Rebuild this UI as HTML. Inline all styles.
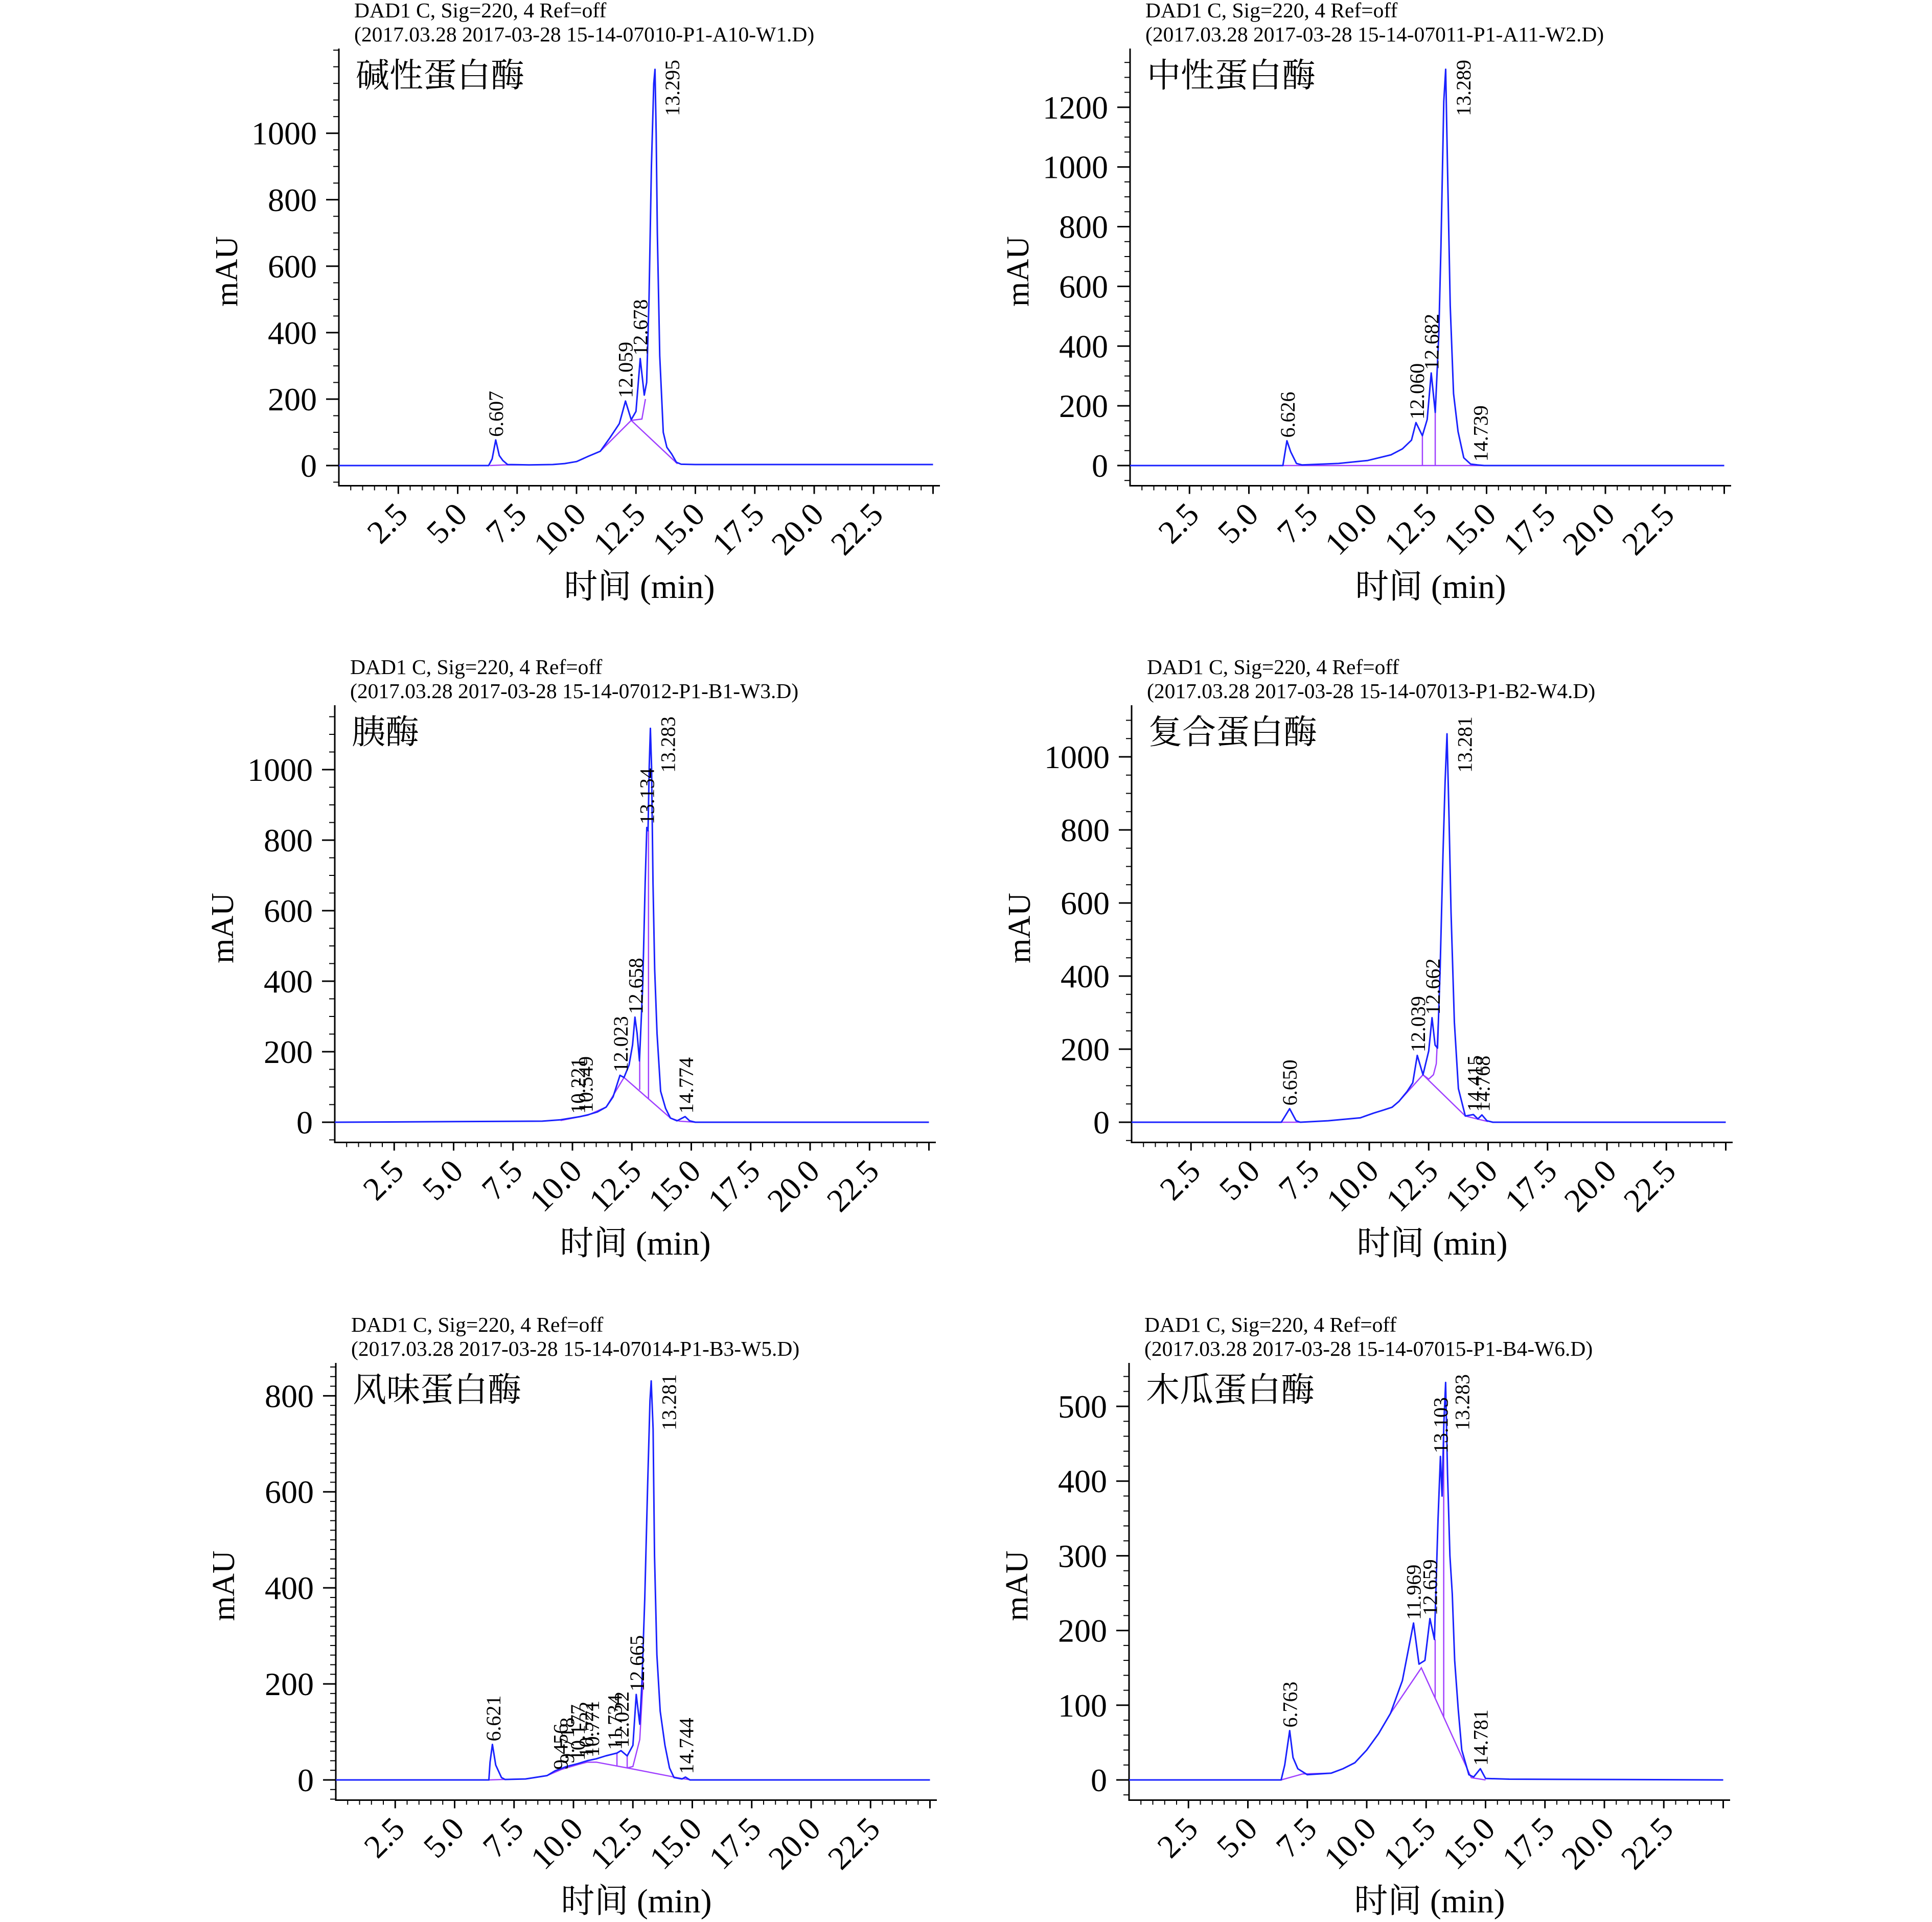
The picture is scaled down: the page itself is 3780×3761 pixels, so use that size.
<!DOCTYPE html>
<html><head><meta charset="utf-8"><title>Chromatograms</title>
<style>
html,body{margin:0;padding:0;background:#fff;}
svg{display:block;}
text{font-family:"Liberation Serif","Noto Serif CJK SC",serif;fill:#000;}
</style></head>
<body>
<svg id="chart" width="3780" height="3761" viewBox="0 0 3780 3761" xmlns="http://www.w3.org/2000/svg"></svg>
<script>
// ---------- data (minutes / mAU) ----------
const P1_times=[0,6.3,6.45,6.6,6.75,6.9,7.1,8,9,9.5,10,10.5,11,11.4,11.8,12.06,12.3,12.5,12.68,12.85,12.95,13.05,13.15,13.25,13.3,13.35,13.4,13.5,13.65,13.8,14.0,14.2,14.4,15,25];
const P1_values=[0,0,20,77,30,15,3,2,3,6,12,28,43,83,126,194,138,163,322,212,250,500,900,1150,1192,1000,700,330,100,55,35,10,4,3,3];
const P1_baseTimes=[[6.35,7.0,8.0],[11.0,12.3,14.25],[12.3,12.75,12.9]];
const P1_baseValues=[[0,2,2],[43,136,5],[136,140,200]];
const P1_dropTimes=[];const P1_dropTop=[];const P1_dropBottom=[];
const P1_peakRT=[6.607,12.059,12.678,13.295];
const P1_peakH=[77,194,322,1192];

const P2_times=[0,6.43,6.6,6.76,7.0,7.24,8.77,10.0,10.98,11.46,11.84,12.03,12.3,12.5,12.67,12.84,12.99,13.08,13.2,13.28,13.35,13.47,13.61,13.8,14.04,14.33,14.62,14.9,25];
const P2_values=[0,0,83,46,7,2,7,17,36,56,85,144,100,154,310,178,437,730,1220,1327,1024,535,241,114,26,5,2,0,0];
const P2_baseTimes=[[6.4,14.9]];
const P2_baseValues=[[0,0]];
const P2_dropTimes=[12.3,12.84];const P2_dropTop=[100,178];const P2_dropBottom=[0,0];
const P2_peakRT=[6.626,12.060,12.682,13.289,14.739];
const P2_peakH=[83,144,310,1327,3];

const P3_times=[0,8.73,9.5,10.32,10.65,11.04,11.42,11.71,12.0,12.17,12.38,12.53,12.63,12.72,12.82,12.96,13.06,13.13,13.18,13.23,13.28,13.33,13.39,13.46,13.56,13.71,13.92,14.12,14.4,14.74,14.93,15.17,25];
const P3_values=[0,3,7,16,21,29,43,72,133,127,162,219,298,252,174,392,680,836,827,1008,1117,1008,680,433,252,88,39,12,4,16,4,0,0];
const P3_baseTimes=[[9.5,10.65,11.42,12.17,14.12,14.5,15.17]];
const P3_baseValues=[[5,20,43,127,12,3,0]];
const P3_dropTimes=[12.83,13.2];const P3_dropTop=[174,827];const P3_dropBottom=[92,67];
const P3_peakRT=[10.221,10.549,12.023,12.658,13.134,13.283,14.774];
const P3_peakH=[15,19,133,298,836,1117,16];

const P4_times=[0,6.3,6.65,6.92,7.1,8.27,9.62,10.19,10.58,10.96,11.25,11.59,11.83,12.02,12.26,12.5,12.64,12.77,12.87,12.98,13.1,13.19,13.27,13.35,13.44,13.58,13.75,14.04,14.38,14.57,14.74,14.95,15.2,25];
const P4_values=[0,0,37,4,0,4,12,25,33,41,57,84,108,183,130,195,286,211,203,416,732,929,1063,850,574,274,92,17,21,9,20,4,0,0];
const P4_baseTimes=[[6.3,7.1],[11.25,12.26,14.04,14.6,15.0],[12.26,12.5,12.7,12.82,12.9]];
const P4_baseValues=[[0,0],[57,130,17,8,2],[130,118,130,160,270]];
const P4_dropTimes=[];const P4_dropTop=[];const P4_dropBottom=[];
const P4_peakRT=[6.650,12.039,12.662,13.281,14.415,14.768];
const P4_peakH=[37,183,286,1063,21,20];

const P5_times=[0,6.44,6.49,6.59,6.73,6.97,7.12,7.98,8.89,9.23,9.71,10.19,10.58,10.96,11.35,11.83,12.0,12.26,12.5,12.64,12.79,12.88,13.0,13.12,13.22,13.27,13.35,13.41,13.51,13.65,13.85,14.04,14.23,14.57,14.71,14.9,25];
const P5_values=[0,0,37,74,31,5,1,2,9,19,28,34,40,44,50,56,61,50,72,178,116,202,378,613,790,831,731,466,261,143,72,25,5,2,6,0,0];
const P5_baseTimes=[[6.44,7.0,7.98],[8.89,9.5,10.19,10.58,10.96,12.26,14.55,14.95],[12.26,12.5,12.79,12.95]];
const P5_baseValues=[[0,1,2],[9,22,32,37,37,25,3,0],[25,28,84,225]];
const P5_dropTimes=[11.83,12.26];const P5_dropTop=[56,50];const P5_dropBottom=[28,25];
const P5_peakRT=[6.621,9.456,9.718,10.177,10.522,10.771,11.734,12.022,12.665,13.281,14.744];
const P5_peakH=[74,15,28,34,40,42,56,61,178,831,6];

const P6_times=[0,6.4,6.55,6.76,6.9,7.1,7.5,8.5,9.0,9.5,10.0,10.5,11.0,11.5,11.97,12.2,12.45,12.66,12.85,13.0,13.1,13.17,13.25,13.32,13.4,13.5,13.6,13.7,13.85,14.0,14.3,14.5,14.78,15.0,16,25];
const P6_values=[0,0,20,66,30,15,7,9,15,23,40,62,89,133,210,155,160,216,188,348,433,380,480,532,410,300,249,160,95,40,7,4,15,2,1,0];
const P6_baseTimes=[[6.4,7.3,8.5,9.0,9.5,10.0,10.5,11.0,12.3,14.4,15.0]];
const P6_baseValues=[[0,8,9,15,23,40,62,89,150,3,0]];
const P6_dropTimes=[12.88,13.24];const P6_dropTop=[188,480];const P6_dropBottom=[109,84];
const P6_peakRT=[6.763,11.969,12.659,13.103,13.283,14.781];
const P6_peakH=[66,210,216,433,532,15];

const xTickLabels=["2.5","5.0","7.5","10.0","12.5","15.0","17.5","20.0","22.5"];
const P1_yTicks=[0,200,400,600,800,1000];
const P2_yTicks=[0,200,400,600,800,1000,1200];
const P3_yTicks=[0,200,400,600,800,1000];
const P4_yTicks=[0,200,400,600,800,1000];
const P5_yTicks=[0,200,400,600,800];
const P6_yTicks=[0,100,200,300,400,500];

// ---------- layout ----------
const NS="http://www.w3.org/2000/svg";
const svg=document.getElementById('chart');
const PXMIN=46.5, AXLEN=1176, ZERO=911, XAX=950.5, TOP=95;
const panels=[
 {id:'p1',ax:663,ry:0,k:0.6503,minor:50,ticks:P1_yTicks,t:P1_times,v:P1_values,bt:P1_baseTimes,bv:P1_baseValues,dt:P1_dropTimes,dtop:P1_dropTop,dbot:P1_dropBottom,rt:P1_peakRT,ph:P1_peakH,file:"(2017.03.28 2017-03-28 15-14-07010-P1-A10-W1.D)",name:"碱性蛋白酶"},
 {id:'p2',ax:2211,ry:0,k:0.5843,minor:50,ticks:P2_yTicks,t:P2_times,v:P2_values,bt:P2_baseTimes,bv:P2_baseValues,dt:P2_dropTimes,dtop:P2_dropTop,dbot:P2_dropBottom,rt:P2_peakRT,ph:P2_peakH,file:"(2017.03.28 2017-03-28 15-14-07011-P1-A11-W2.D)",name:"中性蛋白酶"},
 {id:'p3',ax:655,ry:1285,k:0.69,minor:50,ticks:P3_yTicks,t:P3_times,v:P3_values,bt:P3_baseTimes,bv:P3_baseValues,dt:P3_dropTimes,dtop:P3_dropTop,dbot:P3_dropBottom,rt:P3_peakRT,ph:P3_peakH,file:"(2017.03.28 2017-03-28 15-14-07012-P1-B1-W3.D)",name:"胰酶"},
 {id:'p4',ax:2214,ry:1285,k:0.715,minor:50,ticks:P4_yTicks,t:P4_times,v:P4_values,bt:P4_baseTimes,bv:P4_baseValues,dt:P4_dropTimes,dtop:P4_dropTop,dbot:P4_dropBottom,rt:P4_peakRT,ph:P4_peakH,file:"(2017.03.28 2017-03-28 15-14-07013-P1-B2-W4.D)",name:"复合蛋白酶"},
 {id:'p5',ax:657,ry:2572,k:0.9396,minor:20,ticks:P5_yTicks,t:P5_times,v:P5_values,bt:P5_baseTimes,bv:P5_baseValues,dt:P5_dropTimes,dtop:P5_dropTop,dbot:P5_dropBottom,rt:P5_peakRT,ph:P5_peakH,file:"(2017.03.28 2017-03-28 15-14-07014-P1-B3-W5.D)",name:"风味蛋白酶"},
 {id:'p6',ax:2209,ry:2572,k:1.462,minor:20,ticks:P6_yTicks,t:P6_times,v:P6_values,bt:P6_baseTimes,bv:P6_baseValues,dt:P6_dropTimes,dtop:P6_dropTop,dbot:P6_dropBottom,rt:P6_peakRT,ph:P6_peakH,file:"(2017.03.28 2017-03-28 15-14-07015-P1-B4-W6.D)",name:"木瓜蛋白酶"}
];

function mk(tag,attrs,parent){const e=document.createElementNS(NS,tag);for(const a in attrs)e.setAttribute(a,attrs[a]);parent.appendChild(e);return e;}

panels.forEach(function(p){
 const g=mk('g',{},svg);
 
 
 const xs=function(t){return p.ax+t*PXMIN;};
 const ys=function(v){return p.ry+ZERO-v*p.k;};
 const yTop=p.ry+TOP, yAx=p.ry+XAX;

 const t1=mk('text',{x:p.ax+30,y:p.ry+34,'font-size':41.5},g);
 t1.textContent="DAD1 C, Sig=220, 4 Ref=off";
 
 
 const t2=mk('text',{x:p.ax+30,y:p.ry+81,'font-size':41.5},g);
 t2.textContent=p.file;
 
 
 const nm=mk('text',{x:p.ax+33,y:p.ry+170,'font-size':66},g);
 nm.textContent=p.name;
 
 

 const ya=mk('line',{x1:p.ax,y1:yTop,x2:p.ax,y2:yAx,stroke:'#000','stroke-width':3},g);
 
 
 const xa=mk('line',{x1:p.ax-1.5,y1:yAx,x2:p.ax+AXLEN,y2:yAx,stroke:'#000','stroke-width':3},g);
 
 

 const vmin=(ZERO-XAX)/p.k, vmax=(ZERO-TOP)/p.k;
 for(let v=Math.ceil(vmin/p.minor)*p.minor; v<=vmax; v+=p.minor){
  const major=p.ticks.indexOf(v)>=0;
  const tk=mk('line',{x1:p.ax-(major?25:11),y1:ys(v),x2:p.ax,y2:ys(v),stroke:'#000','stroke-width':major?3:2},g);
  
  
 }
 p.ticks.forEach(function(v){
  const tl=mk('text',{x:p.ax-43,y:ys(v)+22,'font-size':64,'text-anchor':'end'},g);
  tl.textContent=String(v);
  
  
 });
 for(let i=1;i*0.5*PXMIN<AXLEN;i++){
  const t=i*0.5, major=(i%5===0);
  const tk=mk('line',{x1:xs(t),y1:yAx,x2:xs(t),y2:yAx+(major?16:9),stroke:'#000','stroke-width':major?3:2},g);
  
  
 }
 xTickLabels.forEach(function(s){
  const t=parseFloat(s);
  const X=xs(t)+22, Y=yAx+60;
  const tl=mk('text',{x:X,y:Y,'font-size':64,'text-anchor':'end',transform:'rotate(-45 '+X+' '+Y+')'},g);
  tl.textContent=s;
  
  
 });
 const yl=mk('text',{x:p.ax-199,y:p.ry+531,'font-size':62,'text-anchor':'middle',transform:'rotate(-90 '+(p.ax-199)+' '+(p.ry+531)+')'},g);
 yl.textContent="mAU";
 
 
 const xl=mk('text',{x:p.ax+588,y:p.ry+1170,'font-size':66,'text-anchor':'middle'},g);
 xl.textContent="时间 (min)";
 
 

 p.bt.forEach(function(seg,si){
  const pts=seg.map(function(t,j){return xs(t).toFixed(1)+','+ys(p.bv[si][j]).toFixed(1);}).join(' ');
  const bl=mk('polyline',{points:pts,fill:'none',stroke:'#a040ff','stroke-width':2.5},g);
  
  
 });
 p.dt.forEach(function(t,j){
  const dl=mk('line',{x1:xs(t),y1:ys(p.dtop[j]),x2:xs(t),y2:ys(p.dbot[j]),stroke:'#a040ff','stroke-width':2.5},g);
  
  
 });
 const pts=p.t.map(function(t,j){return xs(t).toFixed(1)+','+ys(p.v[j]).toFixed(1);}).join(' ');
 const sig=mk('polyline',{points:pts,fill:'none',stroke:'#1a22ff','stroke-width':3,'stroke-linejoin':'round'},g);
 
 

 p.rt.forEach(function(rt,j){
  const s=rt.toFixed(3);
  const len=s.length*20-8;
  const px=xs(rt), py=ys(p.ph[j]);
  let X,Y,anchor;
  if(py-6-len<yTop+12){X=px+48;Y=yTop+22;anchor='end';}
  else{X=px+14;Y=py-6;anchor='start';}
  const pl=mk('text',{x:X,y:Y,'font-size':40,'text-anchor':anchor,transform:'rotate(-90 '+X+' '+Y+')'},g);
  pl.textContent=s;
  
  
 });
});
</script>
</body></html>
